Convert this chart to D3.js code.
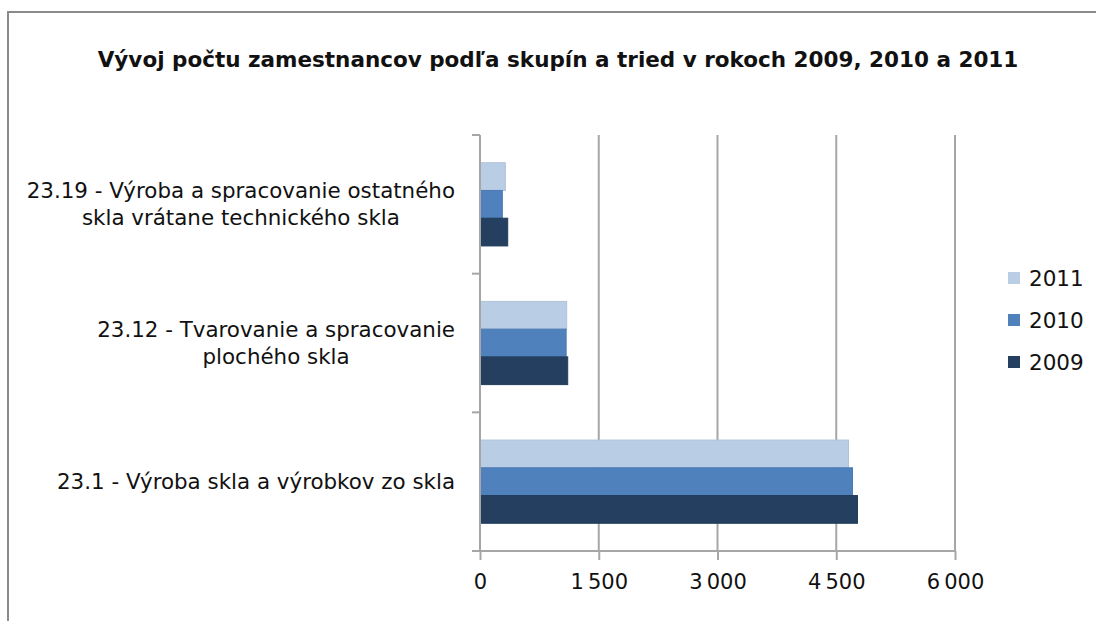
<!DOCTYPE html>
<html>
<head>
<meta charset="utf-8">
<script src="https://cdn.jsdelivr.net/npm/d3@7"></script>
<style>
  body { margin: 0; background: #fff; }
  text { font-family: "DejaVu Sans", sans-serif; fill: #111; }
</style>
</head>
<body>
<div id="chart"></div>
<script>
// data
var categories = [
  "23.19 - Výroba a spracovanie ostatného|skla vrátane technického skla",
  "23.12 - Tvarovanie a spracovanie|plochého skla",
  "23.1 - Výroba skla a výrobkov zo skla"
];
var series = ["2011", "2010", "2009"];
var values2011 = [320, 1095, 4655];
var values2010 = [282, 1088, 4705];
var values2009 = [350, 1108, 4768];
var xTicks = [0, 1500, 3000, 4500, 6000];
var colors = ["#b9cde5", "#4f81bd", "#243f60"];

var seriesValues = [values2011, values2010, values2009];

var W = 1096, H = 621;
var margin = {top: 135, left: 480, right: 141, bottom: 70};
var width = W - margin.left - margin.right,
    height = H - margin.top - margin.bottom;

var svg = d3.select("#chart").append("svg")
    .attr("width", W)
    .attr("height", H);

// outer frame
svg.append("rect")
    .attr("x", 8).attr("y", 12)
    .attr("width", W).attr("height", H)
    .attr("fill", "none")
    .attr("stroke", "#8a8a8a")
    .attr("stroke-width", 2);

// title
svg.append("text")
    .attr("x", 558)
    .attr("y", 67)
    .attr("text-anchor", "middle")
    .style("font-weight", "bold")
    .style("font-size", "21.5px")
    .text("Vývoj počtu zamestnancov podľa skupín a tried v rokoch 2009, 2010 a 2011");

var g = svg.append("g")
    .attr("transform", "translate(" + margin.left + "," + margin.top + ")");

var x = d3.scaleLinear().domain([0, 6000]).range([0, width]);
var y = d3.scaleBand().domain(categories).range([0, height])
    .paddingInner(0.4).paddingOuter(0.2);
var ySub = d3.scaleBand().domain(series).range([0, y.bandwidth()]);

// vertical gridlines
g.append("g")
    .selectAll("line")
    .data(xTicks.slice(1))
    .enter().append("line")
    .attr("x1", function(d) { return x(d); })
    .attr("x2", function(d) { return x(d); })
    .attr("y1", 0)
    .attr("y2", height)
    .attr("stroke", "#a6a6a6")
    .attr("stroke-width", 2);

// bars
series.forEach(function(s, i) {
  g.append("g")
    .selectAll("rect")
    .data(categories)
    .enter().append("rect")
    .attr("x", 0)
    .attr("y", function(d) { return y(d) + ySub(s); })
    .attr("width", function(d, j) { return x(seriesValues[i][j]); })
    .attr("height", ySub.bandwidth())
    .attr("fill", colors[i])
    .attr("stroke", d3.color(colors[i]).darker(0.15))
    .attr("stroke-width", 1);
});

// x axis
var xAxis = g.append("g")
    .attr("transform", "translate(0," + height + ")")
    .call(d3.axisBottom(x)
      .tickValues(xTicks)
      .tickSize(9)
      .tickPadding(14)
      .tickFormat(function(d) { return d3.format(",")(d).replace(/,/g, "\u2009"); }));
xAxis.select(".domain").attr("stroke", "#a6a6a6").attr("stroke-width", 2)
    .attr("d", "M-8,0H" + width);
xAxis.selectAll(".tick line").attr("stroke", "#a6a6a6").attr("stroke-width", 2);
xAxis.selectAll(".tick text").style("font-size", "21px").attr("fill", "#111");

// y axis
var yAxis = g.append("g").call(d3.axisLeft(y).tickSize(0).tickFormat(""));
yAxis.select(".domain").attr("stroke", "#a6a6a6").attr("stroke-width", 2)
    .attr("d", "M0,0V" + height);
var yBounds = [0].concat(categories.map(function(c) { return y(c) + y.bandwidth() + y.step() * 0.2; }));
g.append("g").selectAll("line")
    .data(yBounds)
    .enter().append("line")
    .attr("x1", -8).attr("x2", 0)
    .attr("y1", function(d) { return d; })
    .attr("y2", function(d) { return d; })
    .attr("stroke", "#a6a6a6")
    .attr("stroke-width", 2);

// category labels: wrapped lines, centred block, right aligned
categories.forEach(function(c) {
  var lines = c.split("|");
  var lab = g.append("g");
  var lh = 27;
  var cy = y(c) + y.bandwidth() / 2;
  var texts = lines.map(function(l, i) {
    return lab.append("text")
      .attr("y", cy + (i - (lines.length - 1) / 2) * lh)
      .attr("dy", "0.35em")
      .attr("text-anchor", "middle")
      .style("font-size", "21.4px")
      .text(l);
  });
  var maxW = d3.max(texts, function(t) { return t.node().getComputedTextLength(); });
  texts.forEach(function(t) { t.attr("x", -25 - maxW / 2); });
});

// legend
var legend = svg.append("g").attr("transform", "translate(1008,278)");
series.forEach(function(s, i) {
  var row = legend.append("g").attr("transform", "translate(0," + i * 42 + ")");
  row.append("rect")
    .attr("x", 0).attr("y", -6)
    .attr("width", 12).attr("height", 12)
    .attr("fill", colors[i]);
  row.append("text")
    .attr("x", 21)
    .attr("dy", "0.35em")
    .style("font-size", "21.5px")
    .text(s);
});
</script>
</body>
</html>
